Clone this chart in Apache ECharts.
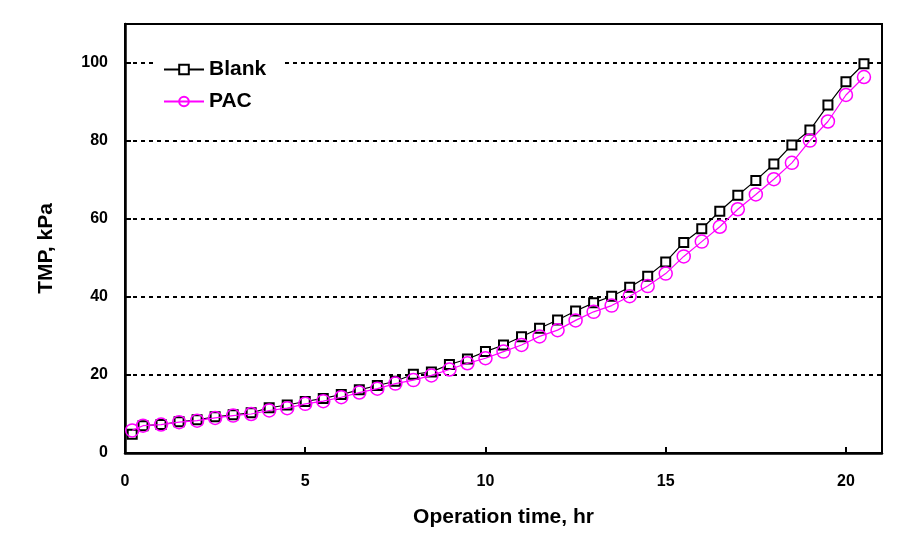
<!DOCTYPE html>
<html>
<head>
<meta charset="utf-8">
<script src="https://cdn.jsdelivr.net/npm/echarts@6/dist/echarts.min.js"></script>
<style>
html,body{margin:0;padding:0;background:#fff;}
#chart{width:897px;height:542px;}
</style>
</head>
<body>
<div id="chart"></div>
<script>
const timeHr = [0.2,0.5,1,1.5,2,2.5,3,3.5,4,4.5,5,5.5,6,6.5,7,7.5,8,8.5,9,9.5,10,10.5,11,11.5,12,12.5,13,13.5,14,14.5,15,15.5,16,16.5,17,17.5,18,18.5,19,19.5,20,20.5];
const blankTMP = [4.8,7.0,7.3,8.0,8.5,9.3,9.8,10.3,11.6,12.3,13.2,14.0,15.0,16.2,17.3,18.4,20.2,20.8,22.7,24.1,26.0,27.7,29.8,32.0,34.1,36.4,38.5,40.2,42.5,45.3,49.0,54.0,57.5,62.0,66.1,69.9,74.1,79.0,82.8,89.2,95.2,99.8];
const pacTMP = [5.8,7.0,7.3,7.9,8.3,9.0,9.6,10.0,10.9,11.5,12.6,13.3,14.3,15.5,16.5,17.8,18.7,19.9,21.4,23.0,24.3,26.0,27.7,29.9,31.5,34.0,36.2,37.8,40.2,42.8,46.0,50.4,54.2,58.0,62.5,66.3,70.2,74.4,80.1,85.0,91.8,96.4];
const seriesNames = ['Blank','PAC'];
const xTickStep = 5, yTickStep = 20;

const font = '"Liberation Sans", Arial, sans-serif';
const chart = echarts.init(document.getElementById('chart'), null, {renderer:'canvas'});
const pair = arr => timeHr.map((t,i)=>[t,arr[i]]);

chart.setOption({
  animation:false,
  backgroundColor:'#fff',
  grid:{left:125,right:15,top:24,bottom:89,show:true,borderColor:'#000',borderWidth:2,backgroundColor:'transparent'},
  legend:{
    orient:'vertical',left:153,top:56,
    itemWidth:40,itemHeight:12,itemGap:11,
    padding:[3,15,3,10],
    backgroundColor:'#fff',
    textStyle:{fontFamily:font,fontWeight:'bold',fontSize:21,color:'#000'},
    data:seriesNames
  },
  xAxis:{
    type:'value',min:0,max:21,interval:xTickStep,
    name:'Operation time, hr',nameLocation:'middle',nameGap:54,
    nameTextStyle:{fontFamily:font,fontWeight:'bold',fontSize:21,color:'#000'},
    axisLine:{onZero:false,lineStyle:{color:'#000',width:2.5}},
    axisTick:{inside:true,length:6,lineStyle:{color:'#000',width:2}},
    axisLabel:{margin:21,fontFamily:font,fontWeight:'bold',fontSize:16,color:'#000',
      formatter:v=> (v % xTickStep===0 ? String(v) : '')},
    splitLine:{show:false}
  },
  yAxis:{
    type:'value',min:0,max:110,interval:yTickStep,
    name:'TMP, kPa',nameLocation:'middle',nameGap:68,nameRotate:90,
    nameTextStyle:{fontFamily:font,fontWeight:'bold',fontSize:21,color:'#000',padding:[0,20,0,0]},
    axisLine:{lineStyle:{color:'#000',width:2.5}},
    axisTick:{inside:true,length:6,lineStyle:{color:'#000',width:2}},
    axisLabel:{margin:17,fontFamily:font,fontWeight:'bold',fontSize:16,color:'#000',
      formatter:v=> (v % yTickStep===0 ? String(v) : '')},
    splitLine:{show:true,lineStyle:{color:'#000',width:2,type:[4,4]}}
  },
  series:[
    {
      name:seriesNames[0],type:'line',data:pair(blankTMP),
      symbol:'rect',symbolSize:9,
      itemStyle:{color:'#fff',borderColor:'#000',borderWidth:2},
      lineStyle:{color:'#000',width:1.2},
      z:2
    },
    {
      name:seriesNames[1],type:'line',data:pair(pacTMP),
      symbol:'circle',symbolSize:13,
      itemStyle:{color:'rgba(255,255,255,0)',borderColor:'#ff00ff',borderWidth:1.5},
      lineStyle:{color:'#ff00ff',width:1.2},
      z:3
    }
  ]
});
</script>
</body>
</html>
